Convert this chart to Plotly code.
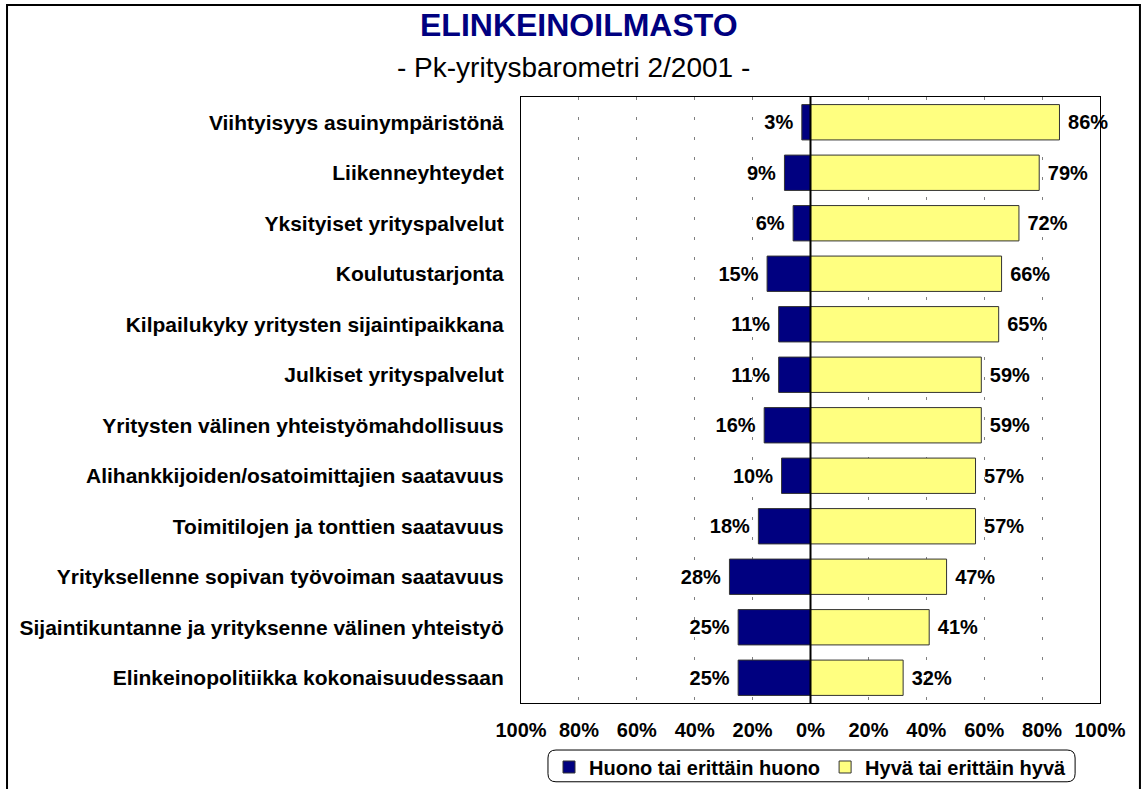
import plotly.graph_objects as go

categories = [
    "Viihtyisyys asuinympäristönä",
    "Liikenneyhteydet",
    "Yksityiset yrityspalvelut",
    "Koulutustarjonta",
    "Kilpailukyky yritysten sijaintipaikkana",
    "Julkiset yrityspalvelut",
    "Yritysten välinen yhteistyömahdollisuus",
    "Alihankkijoiden/osatoimittajien saatavuus",
    "Toimitilojen ja tonttien saatavuus",
    "Yrityksellenne sopivan työvoiman saatavuus",
    "Sijaintikuntanne ja yrityksenne välinen yhteistyö",
    "Elinkeinopolitiikka kokonaisuudessaan",
]
huono = [3, 9, 6, 15, 11, 11, 16, 10, 18, 28, 25, 25]
hyva = [86, 79, 72, 66, 65, 59, 59, 57, 57, 47, 41, 32]
tick_vals = [-100, -80, -60, -40, -20, 0, 20, 40, 60, 80, 100]
tick_text = ["100%", "80%", "60%", "40%", "20%", "0%", "20%", "40%", "60%", "80%", "100%"]
series_names = ["Huono tai erittäin huono", "Hyvä tai erittäin hyvä"]

FONT = "Liberation Sans, Arial, sans-serif"

fig = go.Figure()
fig.add_trace(go.Bar(
    y=categories, x=[-v for v in huono], orientation="h", name=series_names[0],
    marker=dict(color="#000080", line=dict(color="#333333", width=1)),
    width=0.7, text=[f"{v}% " for v in huono], textposition="outside",
    textfont=dict(family=FONT, size=20, color="black", weight="bold"),
    cliponaxis=False, hoverinfo="skip",
))
fig.add_trace(go.Bar(
    y=categories, x=hyva, orientation="h", name=series_names[1],
    marker=dict(color="#FFFF80", line=dict(color="#333333", width=1)),
    width=0.7, text=[f" {v}%" for v in hyva], textposition="outside",
    textfont=dict(family=FONT, size=20, color="black", weight="bold"),
    cliponaxis=False, hoverinfo="skip",
))

fig.update_layout(
    width=1144, height=789,
    margin=dict(l=521, r=44, t=97, b=86, autoexpand=False),
    paper_bgcolor="white", plot_bgcolor="white",
    barmode="relative",
    showlegend=True,
    font=dict(family=FONT, color="black"),
    legend=dict(orientation="h", x=0.5, xanchor="center", y=-0.1056, yanchor="middle",
                font=dict(family=FONT, size=20, color="black", weight="bold"),
                bgcolor="rgba(0,0,0,0)", borderwidth=0, itemwidth=30, traceorder="normal"),
    xaxis=dict(range=[-100, 100], tickvals=tick_vals, ticktext=tick_text,
               showgrid=True, gridcolor="#808080", gridwidth=1, griddash="3px,17px",
               zeroline=False, showline=True, linecolor="black", linewidth=1, mirror=True,
               ticks="", tickfont=dict(family=FONT, size=20, color="black", weight="bold"),
               ticklabelstandoff=9, automargin=False),
    yaxis=dict(autorange="reversed", showgrid=False, zeroline=False,
               showline=True, linecolor="black", linewidth=1, mirror=True,
               ticks="", tickfont=dict(family=FONT, size=21, color="black", weight="bold"),
               ticklabelstandoff=12, automargin=False),
)

# zero line
fig.add_shape(type="line", xref="x", yref="paper", x0=0, x1=0, y0=0, y1=1,
              line=dict(color="black", width=2), layer="above")

# rounded legend box
x0, x1, y0, y1 = 0.0466, 0.957, -0.130, -0.0776
rx, ry = 0.0138, 0.0132
path = (f"M{x0+rx},{y1} L{x1-rx},{y1} Q{x1},{y1} {x1},{y1-ry} L{x1},{y0+ry} "
        f"Q{x1},{y0} {x1-rx},{y0} L{x0+rx},{y0} Q{x0},{y0} {x0},{y0+ry} "
        f"L{x0},{y1-ry} Q{x0},{y1} {x0+rx},{y1} Z")
fig.add_shape(type="path", xref="paper", yref="paper", path=path,
              line=dict(color="black", width=1))

# outer frame
fig.add_shape(type="rect", xref="paper", yref="paper",
              x0=-0.8877, x1=1.069, y0=-0.17, y1=1.1518,
              line=dict(color="black", width=2))

fig.add_annotation(text="<b>ELINKEINOILMASTO</b>", xref="paper", yref="paper",
                   x=0.1002, xanchor="center", y=1.1188, yanchor="middle", showarrow=False,
                   font=dict(family=FONT, size=32, color="#000080"))
fig.add_annotation(text="- Pk-yritysbarometri 2/2001 -", xref="paper", yref="paper",
                   x=0.0907, xanchor="center", y=1.0479, yanchor="middle", showarrow=False,
                   font=dict(family=FONT, size=28, color="black"))

fig.write_html("out.html", config={"displayModeBar": False},
               post_script="document.body.style.margin='0';")
